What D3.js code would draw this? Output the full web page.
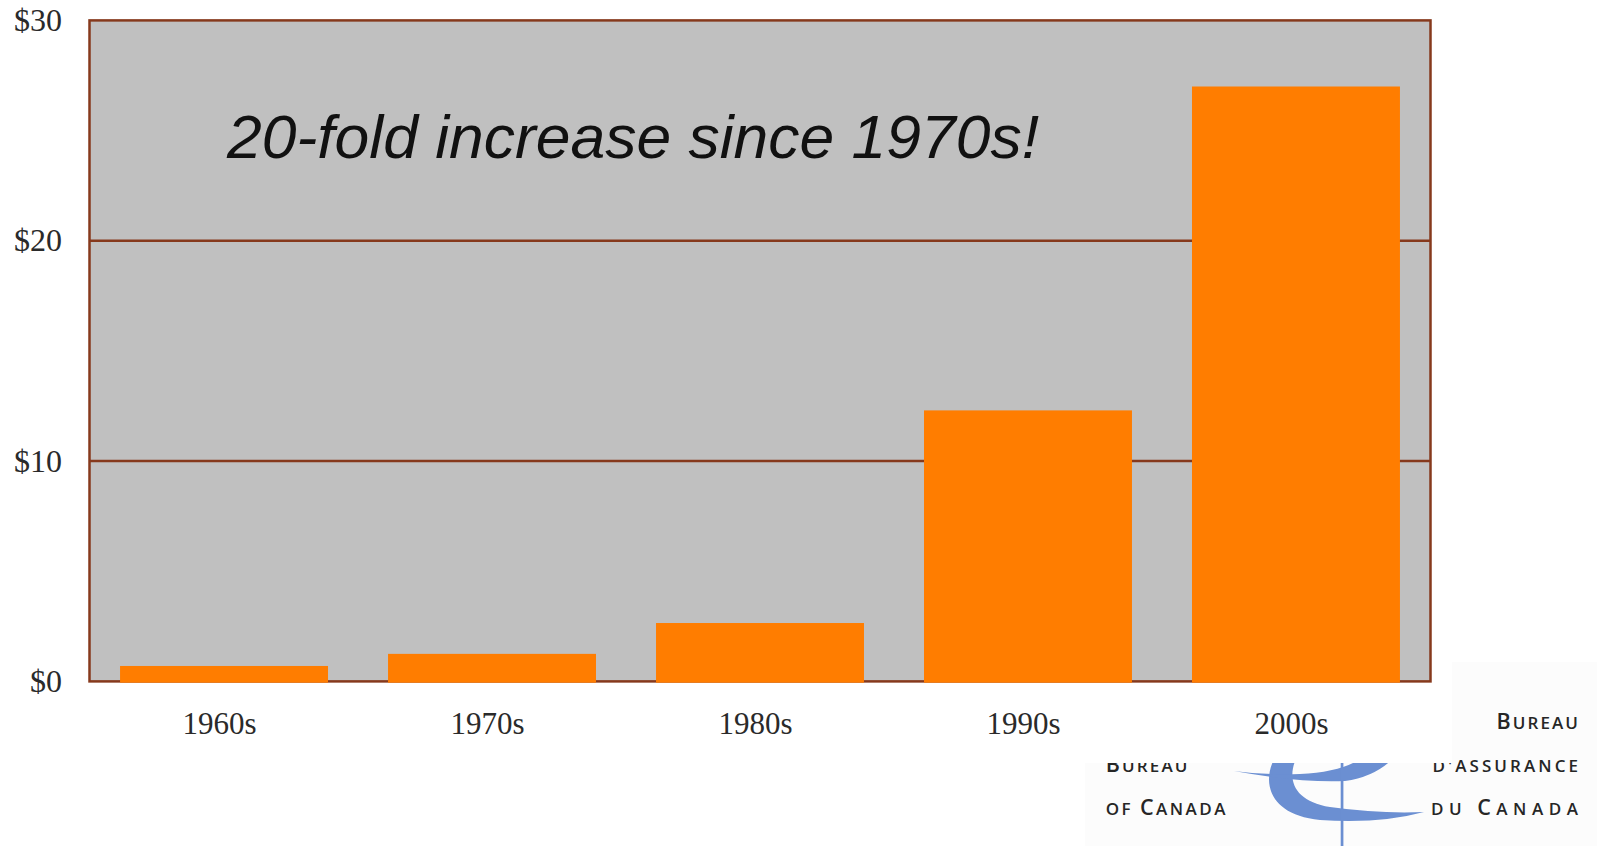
<!DOCTYPE html>
<html>
<head>
<meta charset="utf-8">
<script src="https://cdn.jsdelivr.net/npm/d3@7"></script>
<style>
  html, body { margin: 0; padding: 0; background: #ffffff; }
  svg { display: block; }
</style>
</head>
<body>
<svg id="chart" width="1597" height="846"></svg>
<script>
// Average amount per decade
const decades = ["1960s", "1970s", "1980s", "1990s", "2000s"];
const amounts = [0.7, 1.25, 2.65, 12.3, 27.0];
const yTicks = [0, 10, 20, 30];
const yTickLabels = ["$0", "$10", "$20", "$30"];
const headline = "20-fold increase since 1970s!";

// Logo wording
const logoRight = ["Bureau", "d'assurance", "du Canada"];
const logoLeft = ["Insurance", "Bureau", "of Canada"];

const W = 1597, H = 846;
const plot = { left: 89.5, right: 1430.5, top: 20.4, bottom: 681.4 };
const frameColor = "#86391c";

const svg = d3.select("#chart");

// ---- logo (sits underneath the chart canvas) ----
const logo = svg.append("g").attr("class", "logo");
logo.append("rect")
  .attr("x", 1085).attr("y", 662).attr("width", W - 1085).attr("height", H - 662)
  .attr("fill", "#fcfcfc");

const blue = "#6b8fd2";
// crescent
logo.append("path")
  .attr("fill", blue)
  .attr("d", "M1284,745 C1260,770 1260,814 1320,820 Q1380,824 1424,812 Q1380,814 1330,807 C1288,800 1284,772 1304,745 Z");
// thin upper swoosh
logo.append("path")
  .attr("fill", blue)
  .attr("d", "M1234,771 Q1300,783 1345,781 Q1382,776 1402,748 L1374,748 Q1352,772 1300,774 Q1262,775 1234,771 Z");
// vertical stroke
logo.append("rect")
  .attr("x", 1340.7).attr("y", 745).attr("width", 2.7).attr("height", H - 745)
  .attr("fill", blue);

// small-caps lettering: capitals at full size, the rest as reduced capitals
const logoText = (txt, x, y, len) => {
  const t = logo.append("text")
    .attr("x", x).attr("y", y)
    .attr("textLength", len).attr("lengthAdjust", "spacing")
    .attr("font-family", "'Open Sans', 'DejaVu Sans', sans-serif")
    .attr("font-weight", 600)
    .attr("fill", "#262626");
  const parts = txt.match(/[A-Z]+|[^A-Z]+/g);
  parts.forEach(p => {
    const upper = /^[A-Z]/.test(p);
    t.append("tspan")
      .attr("font-size", upper ? 21.5 : 17)
      .text(p.toUpperCase());
  });
};

logoText(logoRight[0], 1496.5, 729, 81.5);
logoText(logoRight[1], 1432.5, 772, 145.5);
logoText(logoRight[2], 1431, 815, 147);
logoText(logoLeft[0], 1105.7, 729, 120);
logoText(logoLeft[1], 1105.7, 772, 81.7);
logoText(logoLeft[2], 1105.7, 815, 119.7);

// ---- chart canvas ----
svg.append("rect")
  .attr("x", 0).attr("y", 0).attr("width", 1452).attr("height", 763)
  .attr("fill", "#ffffff");

const x = d3.scaleBand()
  .domain(decades)
  .range([plot.left, plot.right])
  .paddingInner(0.224)
  .paddingOuter(0.114);

const y = d3.scaleLinear()
  .domain([0, 30])
  .range([plot.bottom, plot.top]);

// plot background
svg.append("rect")
  .attr("x", plot.left).attr("y", plot.top)
  .attr("width", plot.right - plot.left).attr("height", plot.bottom - plot.top)
  .attr("fill", "#c0c0c0");

// gridlines
svg.append("g")
  .selectAll("line")
  .data(yTicks.filter(d => d > 0 && d < 30))
  .join("line")
  .attr("x1", plot.left).attr("x2", plot.right)
  .attr("y1", d => y(d)).attr("y2", d => y(d))
  .attr("stroke", frameColor)
  .attr("stroke-width", 2.5);

// frame
svg.append("rect")
  .attr("x", plot.left).attr("y", plot.top)
  .attr("width", plot.right - plot.left).attr("height", plot.bottom - plot.top)
  .attr("fill", "none")
  .attr("stroke", frameColor)
  .attr("stroke-width", 2.5);

// bars
svg.append("g")
  .selectAll("rect")
  .data(decades.map((d, i) => ({ decade: d, value: amounts[i] })))
  .join("rect")
  .attr("x", d => x(d.decade))
  .attr("width", x.bandwidth())
  .attr("y", d => y(d.value))
  .attr("height", d => y(0) - y(d.value) + 1.3)
  .attr("fill", "#ff7d00");

// y axis labels
const yAxis = d3.axisLeft(y)
  .tickValues(yTicks)
  .tickFormat((d, i) => yTickLabels[i])
  .tickSize(0)
  .tickPadding(27.5);

svg.append("g")
  .attr("transform", `translate(${plot.left},0)`)
  .call(yAxis)
  .call(g => g.select(".domain").remove())
  .call(g => g.selectAll("text")
    .attr("font-family", "'Liberation Serif', 'Times New Roman', serif")
    .attr("font-size", 32)
    .attr("fill", "#2a2a2a"));

// x axis labels
const xAxis = d3.axisBottom(x)
  .tickSize(0)
  .tickPadding(31);

svg.append("g")
  .attr("transform", `translate(-4.5,${plot.bottom})`)
  .call(xAxis)
  .call(g => g.select(".domain").remove())
  .call(g => g.selectAll("text")
    .attr("font-family", "'Liberation Serif', 'Times New Roman', serif")
    .attr("font-size", 31)
    .attr("fill", "#2a2a2a"));

// headline
svg.append("text")
  .attr("x", 227).attr("y", 158)
  .attr("textLength", 812).attr("lengthAdjust", "spacingAndGlyphs")
  .attr("font-family", "'Liberation Sans', Arial, sans-serif")
  .attr("font-style", "italic")
  .attr("font-size", 61)
  .attr("fill", "#111111")
  .text(headline);
</script>
</body>
</html>
